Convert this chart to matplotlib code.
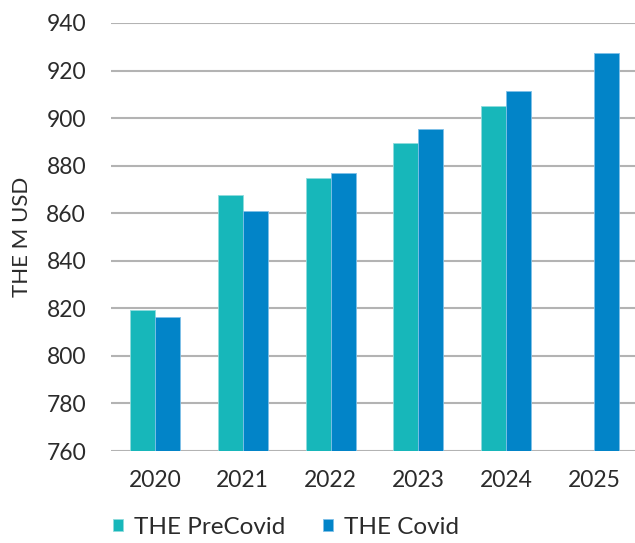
import matplotlib
matplotlib.use("Agg")
import matplotlib.pyplot as plt
import numpy as np

years = ["2020", "2021", "2022", "2023", "2024", "2025"]
precovid = [819.2, 867.6, 875.0, 889.5, 905.0, np.nan]
covid = [816.2, 861.1, 877.0, 895.6, 911.2, 927.4]
yticks = [760, 780, 800, 820, 840, 860, 880, 900, 920, 940]

plt.rcParams['font.family'] = ['Lato', 'DejaVu Sans']

fig = plt.figure(figsize=(6.35, 5.43), dpi=100)
ax = fig.add_axes([111/635, 1 - 451/543, (638-111)/635, (451-23)/543])

x = np.arange(len(years))
w = 0.285
c1 = "#17b7ba"
c2 = "#0284c8"
ax.bar(x - w/2, precovid, w, color=c1, edgecolor="#8fdcdc", linewidth=0.6, zorder=3, label="THE PreCovid")
ax.bar(x + w/2, covid, w, color=c2, edgecolor="#7fc0e8", linewidth=0.6, zorder=3, label="THE Covid")

ax.set_ylim(760, 940)
ax.set_xlim(-0.5, len(years) - 0.5)
ax.set_yticks(yticks)
ax.set_xticks(x)
ax.set_xticklabels(years)
ax.grid(axis="y", color="#b3b3b3", linewidth=1.5, zorder=0)
for s in ax.spines.values():
    s.set_visible(False)
ax.tick_params(axis="both", length=0, labelsize=16.5, colors="#2b2b2b")
ax.tick_params(axis="y", pad=18)
ax.tick_params(axis="x", pad=14)
ax.set_ylabel("THE M USD", fontsize=16, color="#2b2b2b")
ax.yaxis.set_label_coords(-0.15, 0.5)

leg = fig.legend(loc="center left", bbox_to_anchor=(113/635, 1 - 527/543), ncol=2, frameon=False,
                 fontsize=17.5, handlelength=0.42, handleheight=0.42, handletextpad=0.45,
                 columnspacing=1.55, labelcolor="#2b2b2b", borderaxespad=0, borderpad=0)
fig.savefig("out.png", dpi=100)
